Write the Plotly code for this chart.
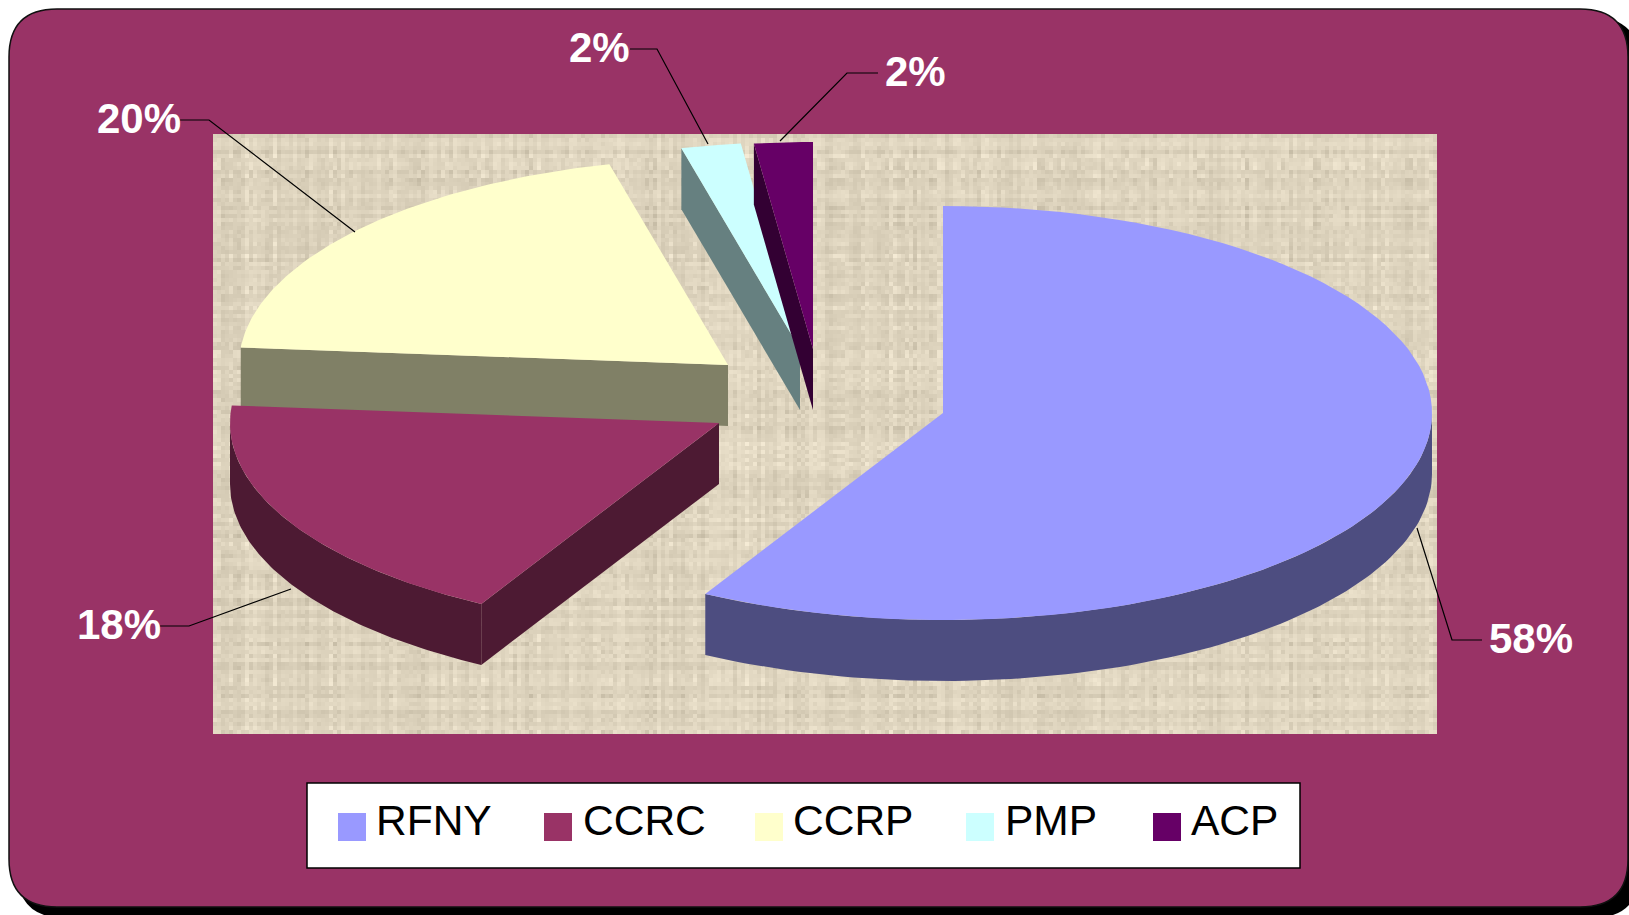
import base64
import math
import struct
import zlib

import numpy as np
import plotly.graph_objects as go

# ---------- data ----------
categories = ["RFNY", "CCRC", "CCRP", "PMP", "ACP"]
values = [58.08, 18.27, 19.75, 1.97, 1.93]
top_colors = ["#9999FF", "#993366", "#FFFFCC", "#CCFFFF", "#660066"]
side_colors = ["#4D4D80", "#4D1A33", "#808066", "#668080", "#330033"]

# ---------- layout constants (pixels) ----------
W, H = 1629, 915
RX, RY, DEPTH = 489, 207, 61
centers = {"RFNY": (943, 413), "CCRC": (719, 423), "CCRP": (728, 365), "PMP": (800, 349), "ACP": (813, 349)}
draw_order = ["RFNY", "CCRP", "CCRC", "PMP", "ACP"]
label_pos = {"RFNY": (1531, 638), "CCRC": (119, 624), "CCRP": (139, 118), "PMP": (599, 47), "ACP": (915, 71)}
leaders = {
    "RFNY": [(1482, 640), (1452, 640), (1417, 528)],
    "CCRC": [(160, 626), (189, 626), (291, 589)],
    "CCRP": [(180, 120), (209, 120), (355, 232)],
    "PMP": [(630, 49), (657, 49), (708, 144)],
    "ACP": [(878, 73), (847, 73), (780, 141)],
}
swatch_x = [352, 558, 769, 980, 1167]
legend_text_x = [376, 583, 793, 1005, 1191]
swatch_y, legend_text_y = 827, 820


def pt(c, t, dz=0.0):
    return c[0] + RX * math.sin(t), c[1] - RY * math.cos(t) + dz


def arc(c, t0, t1, dz=0.0, n=90):
    return [pt(c, t0 + (t1 - t0) * i / n, dz) for i in range(n + 1)]


def add_poly(fig, pts, color, name):
    xs = [p[0] for p in pts] + [pts[0][0]]
    ys = [p[1] for p in pts] + [pts[0][1]]
    fig.add_trace(go.Scatter(x=xs, y=ys, mode="lines", fill="toself", fillcolor=color,
                             line=dict(width=0, color=color), name=name,
                             hoverinfo="name", showlegend=False))


# ---------- slice angles derived from the values ----------
total = sum(values)
angles = {}
acc = 0.0
for cat, v in zip(categories, values):
    angles[cat] = (acc / total * 2 * math.pi, (acc + v) / total * 2 * math.pi)
    acc += v

fig = go.Figure()
for cat in draw_order:
    i = categories.index(cat)
    c = centers[cat]
    t0, t1 = angles[cat]
    # side wall along the rim (only the front half of the ellipse shows)
    a0, a1 = max(t0, math.pi / 2), min(t1, 3 * math.pi / 2)
    if a0 < a1:
        add_poly(fig, arc(c, a0, a1) + arc(c, a1, a0, DEPTH), side_colors[i], cat + " side")
    # cut face at the start of the slice, visible for the slices on the left
    if t0 > math.pi:
        s = pt(c, t0)
        add_poly(fig, [c, s, (s[0], s[1] + DEPTH), (c[0], c[1] + DEPTH)], side_colors[i], cat + " face")
    # top
    add_poly(fig, [c] + arc(c, t0, t1), top_colors[i], cat)

# legend swatches
fig.add_trace(go.Scatter(x=swatch_x, y=[swatch_y] * 5, mode="markers", hoverinfo="skip", showlegend=False,
                         marker=dict(symbol="square", size=28, color=top_colors, line=dict(width=0))))


# ---------- woven paper texture for the plot area (image only, not data) ----------
def noise(n, seed):
    return np.modf(np.sin((np.arange(n) + seed) * 12.9898 + seed) * 43758.5453)[0] % 1.0


def texture_png(cols, rows, cell):
    cv, rv = noise(cols, 1.3) - 0.5, noise(rows, 7.7) - 0.5
    cv2, rv2 = noise(cols, 3.1) - 0.5, noise(rows, 5.9) - 0.5
    cross = np.modf(np.sin(np.outer(np.arange(rows) * 3.17 + 1, np.arange(cols) * 1.93 + 2)) * 9173.31)[0] % 1.0 - 0.5
    f = 0.36 * rv[:, None] + 0.36 * cv[None, :] + 1.2 * np.outer(rv2, cv2) + 0.22 * cross
    base = np.array([222.0, 212.0, 190.0])
    amp = np.array([38.0, 38.0, 38.0])
    img = np.clip(base[None, None, :] + f[:, :, None] * amp[None, None, :], 0, 255).astype(np.uint8)
    img = np.repeat(np.repeat(img, cell, axis=0), cell, axis=1)
    h, w, _ = img.shape
    raw = b"".join(b"\x00" + img[r].tobytes() for r in range(h))

    def chunk(tag, data):
        return struct.pack(">I", len(data)) + tag + data + struct.pack(">I", zlib.crc32(tag + data) & 0xFFFFFFFF)

    return (b"\x89PNG\r\n\x1a\n" + chunk(b"IHDR", struct.pack(">IIBBBBB", w, h, 8, 2, 0, 0, 0))
            + chunk(b"IDAT", zlib.compress(raw, 9)) + chunk(b"IEND", b""))


tex = "data:image/png;base64," + base64.b64encode(texture_png(306, 150, 4)).decode()


def round_rect(x0, y0, x1, y1, r):
    return (f"M{x0 + r},{y0} L{x1 - r},{y0} Q{x1},{y0} {x1},{y0 + r} L{x1},{y1 - r} Q{x1},{y1} {x1 - r},{y1} "
            f"L{x0 + r},{y1} Q{x0},{y1} {x0},{y1 - r} L{x0},{y0 + r} Q{x0},{y0} {x0 + r},{y0} Z")


shapes = [
    dict(type="path", path=round_rect(17, 17, 1640, 918, 48), fillcolor="#000000", line=dict(width=0), layer="below"),
    dict(type="path", path=round_rect(9, 9, 1628, 907, 48), fillcolor="#993366",
         line=dict(color="#111111", width=1.5), layer="below"),
    dict(type="rect", x0=307, x1=1300, y0=783, y1=868, fillcolor="#FFFFFF",
         line=dict(color="#000000", width=1.5), layer="below"),
]
for cat in categories:
    p = leaders[cat]
    path = "M" + " L".join(f"{x},{y}" for x, y in p)
    shapes.append(dict(type="path", path=path, line=dict(color="#000000", width=1.2), layer="above"))

annotations = []
for cat, v in zip(categories, values):
    x, y = label_pos[cat]
    annotations.append(dict(x=x, y=y, text=f"<b>{round(v)}%</b>", showarrow=False, xanchor="center", yanchor="middle",
                            font=dict(family="Liberation Sans", size=42, color="#FFFFFF")))
for cat, x in zip(categories, legend_text_x):
    annotations.append(dict(x=x, y=legend_text_y, text=cat, showarrow=False, xanchor="left", yanchor="middle",
                            font=dict(family="Liberation Sans", size=42.5, color="#000000"),
                            borderpad=0, xshift=-1))

fig.update_layout(
    width=W, height=H, margin=dict(l=0, r=0, t=0, b=0), autosize=False,
    paper_bgcolor="#FFFFFF", plot_bgcolor="rgba(0,0,0,0)",
    xaxis=dict(range=[0, W], visible=False, fixedrange=True),
    yaxis=dict(range=[H, 0], visible=False, fixedrange=True),
    shapes=shapes, annotations=annotations, showlegend=False,
    images=[dict(source=tex, xref="x", yref="y", x=213, y=134, sizex=1224, sizey=600,
                 sizing="stretch", xanchor="left", yanchor="top", layer="below")],
)

fig.write_html("out.html", config={"displayModeBar": False},
               post_script="document.body.style.margin='0';document.body.style.overflow='hidden';")
